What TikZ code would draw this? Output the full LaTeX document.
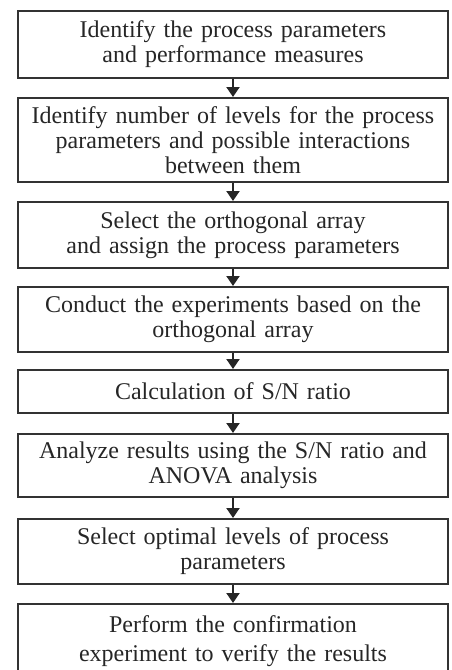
\documentclass[tikz,border=0pt]{standalone}
\usepackage{fontspec}
\setmainfont{Liberation Serif}
\usepackage{tikz}
\usetikzlibrary{positioning}
\usetikzlibrary{arrows.meta}

\tikzset{
  procbox/.style={draw=black!80, line width=0.9pt, text=black!85,
    text width=215pt, inner sep=0pt, align=center, anchor=north,
    font=\fontsize{12}{12.5}\selectfont},
  flow/.style={line width=1pt, draw=black!85,
    -{Triangle[width=6.5pt,length=5pt]}}
}

\begin{document}
\begin{tikzpicture}[x=0.5pt,y=-0.5pt]
\useasboundingbox (0,0) rectangle (451,670);

\node[procbox, minimum height=33.5pt] (s1) at (233,10)
  {Identify the process parameters\\and performance measures};
\node[procbox, minimum height=42pt] (s2) at (233,97)
  {Identify number of levels for the process\\parameters and possible interactions\\between them};
\node[procbox, minimum height=33pt] (s3) at (233,201)
  {Select the orthogonal array\\and assign the process parameters};
\node[procbox, minimum height=32.5pt] (s4) at (233,286)
  {Conduct the experiments based on the\\orthogonal array};
\node[procbox, minimum height=21.5pt] (s5) at (233,369)
  {Calculation of S/N ratio};
\node[procbox, minimum height=31.5pt] (s6) at (233,433)
  {Analyze results using the S/N ratio and\\ANOVA analysis};
\node[procbox, minimum height=32.5pt] (s7) at (233,518)
  {Select optimal levels of process\\parameters};
\node[procbox, minimum height=37pt,
  font=\fontsize{12}{14.5}\selectfont] (s8) at (233,603)
  {Perform the confirmation\\experiment to verify the results};

\foreach \a/\b in {1/2,2/3,3/4,4/5,5/6,6/7,7/8}
  \draw[flow] (s\a) -- (s\b);
\end{tikzpicture}
\end{document}
